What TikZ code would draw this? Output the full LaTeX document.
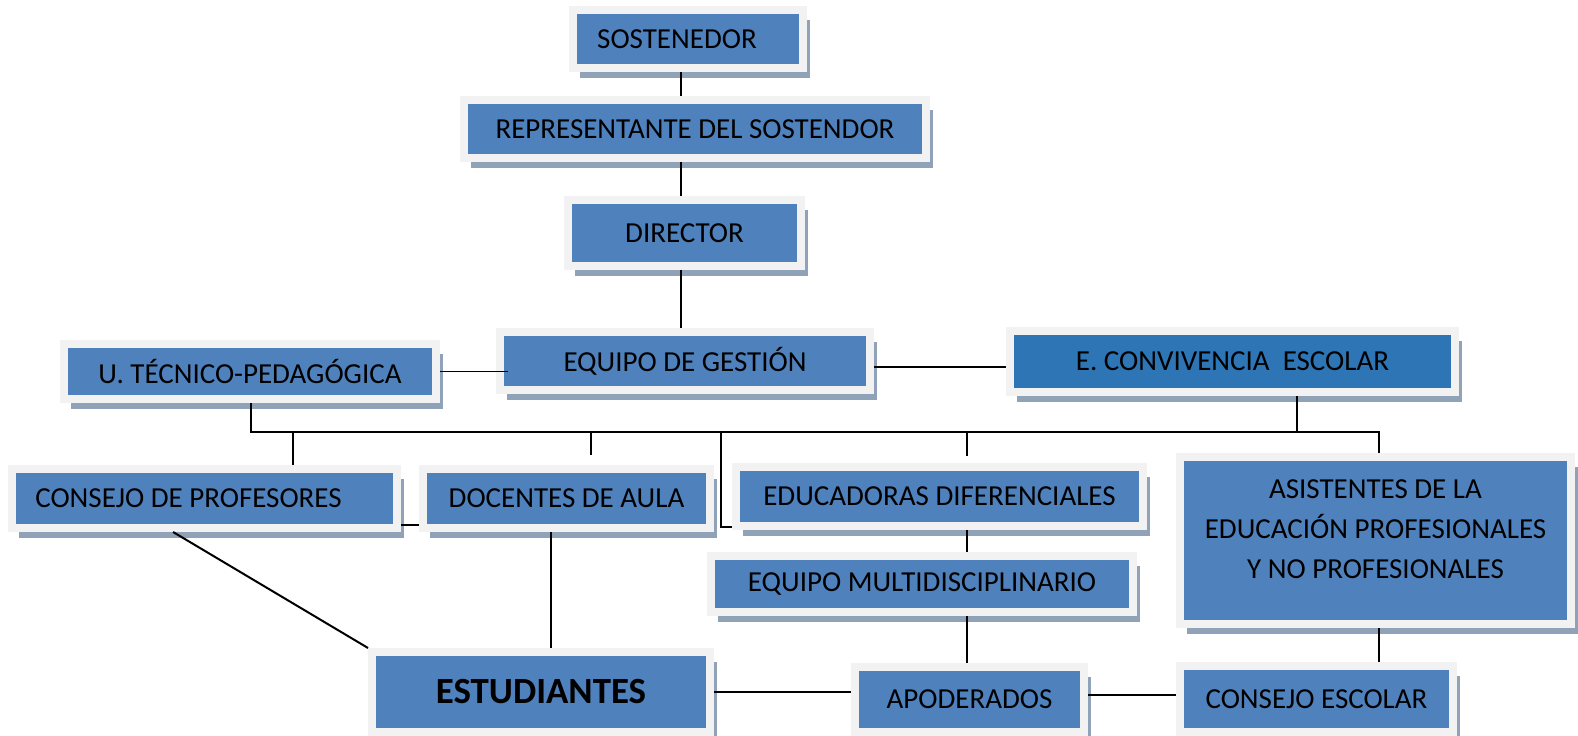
\documentclass[tikz,border=0pt]{standalone}
\usepackage{fontspec}
\setmainfont{Carlito}
\usetikzlibrary{calc,shadows}
\definecolor{cajaazul}{HTML}{4F81BD}
\definecolor{cajaoscura}{HTML}{2E75B6}
\definecolor{marco}{HTML}{F2F2F2}
\definecolor{sombra}{HTML}{8FA2B8}

\begin{document}
\begin{tikzpicture}[x=0.02cm,y=-0.02cm,
	caja/.style={draw=marco, fill=cajaazul, line width=0.16cm, inner sep=0pt, outer sep=0.08cm, font=\fontsize{16.5}{19.8}\selectfont, drop shadow={shadow xshift=0.14cm, shadow yshift=-0.2cm, fill=sombra, opacity=1}},
	con/.style={draw=black, line width=0.04cm}]
				\useasboundingbox (0,0) rectangle (1578,736);
				\node[caja, minimum width=4.60cm, minimum height=1.16cm] (sost) at (688,39) {SOSTENEDOR\hspace*{0.44cm}};
				\node[caja, minimum width=9.24cm, minimum height=1.16cm] (rep) at (695,129) {REPRESENTANTE DEL SOSTENDOR};
				\node[caja, minimum width=4.66cm, minimum height=1.32cm] (dir) at (684.5,233) {DIRECTOR};
				\node[caja, minimum width=7.40cm, minimum height=1.16cm] (eqg) at (685,361) {EQUIPO DE GESTIÓN};
				\node[caja, minimum width=7.44cm, minimum height=1.10cm] (utp) at (250,371.5) {U. TÉCNICO-PEDAGÓGICA};
				\node[caja, fill=cajaoscura, minimum width=8.90cm, minimum height=1.22cm] (ecv) at (1232.5,361.5) {E. CONVIVENCIA\ \ ESCOLAR};
				\node[caja, minimum width=7.70cm, minimum height=1.18cm] (cpr) at (204.5,498.5) {CONSEJO DE PROFESORES\hspace*{0.64cm}};
				\node[caja, minimum width=5.74cm, minimum height=1.18cm] (doc) at (566.5,498.5) {DOCENTES DE AULA};
				\node[caja, minimum width=8.14cm, minimum height=1.18cm] (edu) at (939.5,496.5) {EDUCADORAS DIFERENCIALES};
				\node[caja, minimum width=8.44cm, minimum height=1.12cm] (emu) at (922,584) {EQUIPO MULTIDISCIPLINARIO};
				\node[caja, minimum width=7.82cm, minimum height=3.34cm, align=center, font=\fontsize{16.5}{22.8}\selectfont, text depth=0.45cm] (asi) at (1375.5,540.5) {ASISTENTES DE LA\\EDUCACIÓN PROFESIONALES\\Y NO PROFESIONALES};
				\node[caja, minimum width=6.76cm, minimum height=1.60cm, font=\fontsize{21}{25}\selectfont\bfseries] (est) at (541,692) {ESTUDIANTES};
				\node[caja, minimum width=4.58cm, minimum height=1.30cm] (apo) at (969.5,699.5) {APODERADOS};
				\node[caja, minimum width=5.46cm, minimum height=1.32cm] (ces) at (1316.5,699) {CONSEJO ESCOLAR};
				\coordinate (eje) at (681,0);
				\coordinate (busi) at (251,432);
				\coordinate (busd) at (1297,432);
				\coordinate (bcpr) at (293,432);
				\coordinate (bdoc) at (591,432);
				\coordinate (tdoc) at (591,455);
				\coordinate (bedu) at (721,432);
				\coordinate (bdif) at (967,432);
				\coordinate (tdif) at (967,456);
				\coordinate (easi) at (1379,0);
				\coordinate (edoc) at (551,0);
				\draw[con] (sost.south -| eje) -- (rep.north -| eje);
				\draw[con] (rep.south -| eje) -- (dir.north -| eje);
				\draw[con] (dir.south -| eje) -- (eqg.north -| eje);
				\draw[con] (utp.east) -- ([xshift=0.24cm]eqg.west |- utp.east);
				\draw[con] ([yshift=-0.12cm]eqg.east) -- ([yshift=-0.12cm]eqg.east -| ecv.west);
				\draw[con] (utp.south -| busi) -- (busi) -- (busd) -- (ecv.south -| busd);
				\draw[con] (busd) -| (asi.north -| easi);
				\draw[con] (bcpr) -- (cpr.north -| bcpr);
				\draw[con] (bdoc) -- (tdoc);
				\draw[con] (bedu) |- ([yshift=0.06cm]edu.south west);
				\draw[con] (bdif) -- (tdif);
				\draw[con] ([yshift=0.14cm]cpr.south east) -- ([yshift=0.14cm]doc.south west);
				\draw[con] ($(cpr.south west)!0.42!(cpr.south east)$) -- (est.north west);
				\draw[con] (doc.south -| edoc) -- (est.north -| edoc);
				\draw[con] (edu.south -| bdif) -- (emu.north -| bdif);
				\draw[con] (emu.south -| bdif) -- (apo.north -| bdif);
				\draw[con] (est.east) -- (est.east -| apo.west);
				\draw[con] ([yshift=0.1cm]apo.east) -- ([yshift=0.1cm]apo.east -| ces.west);
				\draw[con] (asi.south -| easi) -- (ces.north -| easi);
\end{tikzpicture}
\end{document}
